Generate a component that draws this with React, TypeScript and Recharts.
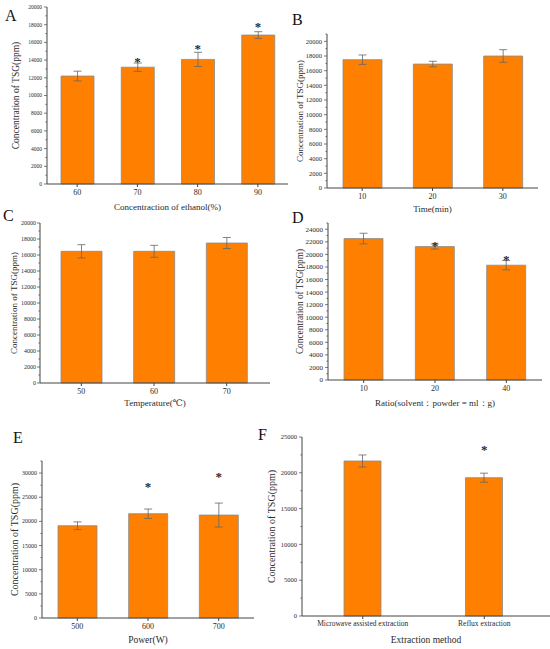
import React from 'react';
import { ComposedChart, Bar, Scatter, XAxis, YAxis, ErrorBar } from 'recharts';

// A - ethanol concentration
const ethanolCats = ['60', '70', '80', '90'];
const ethanolTsg = [12200, 13200, 14080, 16830];
const ethanolErr = [550, 470, 800, 380];
const ethanolStar = [null, 14100, 15500, 18000];

// B - time
const timeCats = ['10', '20', '30'];
const timeTsg = [17500, 16900, 18000];
const timeErr = [640, 380, 860];
const timeStar = [null, null, null];

// C - temperature
const tempCats = ['50', '60', '70'];
const tempTsg = [16460, 16460, 17500];
const tempErr = [830, 750, 690];
const tempStar = [null, null, null];

// D - solvent ratio
const ratioCats = ['10', '20', '40'];
const ratioTsg = [22520, 21250, 18280];
const ratioErr = [850, 400, 740];
const ratioStar = [null, 21720, 19500];

// E - power
const powerCats = ['500', '600', '700'];
const powerTsg = [19100, 21590, 21310];
const powerErr = [800, 970, 2480];
const powerStar = [null, 27600, 29800];

// F - method
const methodCats = ['Microwave assisted extraction', 'Reflux extraction'];
const methodTsg = [21650, 19320];
const methodErr = [840, 630];
const methodStar = [null, 23600];

const ticks20k = [0, 2000, 4000, 6000, 8000, 10000, 12000, 14000, 16000, 18000, 20000];
const ticks24k = [0, 2000, 4000, 6000, 8000, 10000, 12000, 14000, 16000, 18000, 20000, 22000, 24000];
const ticks30k = [0, 5000, 10000, 15000, 20000, 25000, 30000];
const ticks25k = [0, 5000, 10000, 15000, 20000, 25000];

const ORANGE = '#FF8000';
const AXIS = '#444';
const TEXT = '#2a2a2a';
const Y_TITLE = 'Concentration of TSG(ppm)';

type Row = { cat: string; v: number; err: number; star: number | null };

const rows = (cats: string[], v: number[], err: number[], star: (number | null)[]): Row[] =>
  cats.map((c, i) => ({ cat: c, v: v[i], err: err[i], star: star[i] }));

const YTick = (props: any) => {
  const { x, y, payload, majors, fs, gap } = props;
  const ax = x + 5;
  const major = majors.includes(payload.value);
  return (
    <g>
      <line x1={ax - (major ? 3 : 1.6)} x2={ax} y1={y} y2={y} stroke={AXIS} strokeWidth={0.7} />
      {major && (
        <text x={ax - gap} y={y} dy="0.35em" textAnchor="end" fontSize={fs} fill={TEXT}>
          {payload.value}
        </text>
      )}
    </g>
  );
};

const Star = (props: any) => {
  const { cx, cy, payload } = props;
  if (payload == null || payload.star == null) return <g />;
  return (
    <text x={cx} y={cy + 6.5} textAnchor="middle" fontSize={13} fontWeight="bold" fill={TEXT}>
      *
    </text>
  );
};

type PanelProps = {
  data: Row[];
  left: number;
  top: number;
  width: number;
  height: number;
  mTop: number;
  mRight: number;
  yWidth: number;
  max: number;
  majors: number[];
  minorStep: number;
  yFont: number;
  yGap?: number;
  xFont: number;
  barSize: number;
  xLabel: string;
  xLabelOffset: number;
  yLabelOffset: number;
  yLabelFont: number;
  xLabelFont: number;
  pad?: { left: number; right: number };
};

function Panel(p: PanelProps) {
  const allTicks: number[] = [];
  for (let t = 0; t <= p.max; t += p.minorStep) allTicks.push(t);
  return (
    <div style={{ position: 'absolute', left: p.left, top: p.top }}>
      <ComposedChart
        width={p.width}
        height={p.height}
        data={p.data}
        margin={{ top: p.mTop, right: p.mRight, left: 0, bottom: 0 }}
      >
        <XAxis
          dataKey="cat"
          height={30}
          padding={p.pad || { left: 0, right: 0 }}
          stroke={AXIS}
          tickSize={3}
          tickMargin={2}
          tick={{ fontSize: p.xFont, fill: TEXT }}
          interval={0}
          label={{ value: p.xLabel, position: 'insideBottom', offset: p.xLabelOffset, fontSize: p.xLabelFont, fill: TEXT }}
        />
        <YAxis
          type="number"
          domain={[0, p.max]}
          ticks={allTicks}
          interval={0}
          width={p.yWidth}
          stroke={AXIS}
          tickSize={3}
          tickMargin={2}
          tickLine={false}
          tick={<YTick majors={p.majors} fs={p.yFont} gap={p.yGap ?? 5} />}
          label={{
            value: Y_TITLE,
            angle: -90,
            position: 'insideLeft',
            offset: p.yLabelOffset,
            fontSize: p.yLabelFont,
            fill: TEXT,
            style: { textAnchor: 'middle' },
          }}
        />
        <Bar dataKey="v" fill={ORANGE} stroke="#8a8a8a" strokeWidth={0.8} barSize={p.barSize} isAnimationActive={false}>
          <ErrorBar dataKey="err" width={4} strokeWidth={0.8} stroke="#666" />
        </Bar>
        <Scatter dataKey="star" shape={<Star />} isAnimationActive={false} />
      </ComposedChart>
    </div>
  );
}

const letter = (t: string, x: number, y: number) => (
  <div style={{ position: 'absolute', left: x, top: y, fontSize: 16, lineHeight: '16px', color: '#111' }}>{t}</div>
);

export default function App() {
  return (
    <div
      style={{
        position: 'absolute',
        left: 0,
        top: 0,
        width: 550,
        height: 649,
        background: '#fff',
        fontFamily: '"Liberation Serif", "DejaVu Serif", serif',
        overflow: 'hidden',
      }}
    >
      <Panel
        data={rows(ethanolCats, ethanolTsg, ethanolErr, ethanolStar)}
        left={0} top={0} width={292} height={214} mTop={7} mRight={4}
        yWidth={47} max={20000} majors={ticks20k} minorStep={1000}
        yFont={5.5} xFont={8} barSize={33}
        xLabel="Concentraction of ethanol(%)" xLabelOffset={4} xLabelFont={9}
        yLabelOffset={16} yLabelFont={9.5}
      />
      <Panel
        data={rows(timeCats, timeTsg, timeErr, timeStar)}
        left={275} top={0} width={265} height={218} mTop={34} mRight={2}
        yWidth={52} max={21000} majors={ticks20k} minorStep={1000}
        yFont={6.5} xFont={8} barSize={39}
        xLabel="Time(min)" xLabelOffset={6} xLabelFont={9}
        yLabelOffset={25} yLabelFont={9}
      />
      <Panel
        data={rows(tempCats, tempTsg, tempErr, tempStar)}
        left={0} top={214} width={272} height={199} mTop={9} mRight={2}
        yWidth={40} max={20000} majors={ticks20k} minorStep={1000}
        yFont={6} yGap={4} xFont={8} barSize={41} pad={{ left: 5, right: 7 }}
        xLabel="Temperature(℃)" xLabelOffset={7} xLabelFont={9}
        yLabelOffset={14} yLabelFont={9}
      />
      <Panel
        data={rows(ratioCats, ratioTsg, ratioErr, ratioStar)}
        left={275} top={214} width={269} height={196} mTop={9} mRight={2}
        yWidth={53} max={25000} majors={ticks24k} minorStep={1000}
        yFont={7} xFont={8} barSize={39}
        xLabel="Ratio(solvent：powder = ml：g)" xLabelOffset={4} xLabelFont={9}
        yLabelOffset={25} yLabelFont={9.3}
      />
      <Panel
        data={rows(powerCats, powerTsg, powerErr, powerStar)}
        left={0} top={430} width={256} height={218} mTop={31} mRight={2}
        yWidth={42} max={32500} majors={ticks30k} minorStep={2500}
        yFont={6} xFont={8} barSize={39}
        xLabel="Power(W)" xLabelOffset={5} xLabelFont={9.5}
        yLabelOffset={14} yLabelFont={10}
      />
      <Panel
        data={rows(methodCats, methodTsg, methodErr, methodStar)}
        left={250} top={430} width={300} height={216} mTop={7} mRight={0}
        yWidth={52} max={25000} majors={ticks25k} minorStep={2500}
        yFont={6.5} xFont={7.5} barSize={37} pad={{ left: 0, right: 5 }}
        xLabel="Extraction method" xLabelOffset={3} xLabelFont={9.5}
        yLabelOffset={21} yLabelFont={10}
      />
      {letter('A', 5, 8)}
      {letter('B', 292, 12)}
      {letter('C', 3, 208)}
      {letter('D', 292, 210)}
      {letter('E', 13, 430)}
      {letter('F', 258, 427)}
    </div>
  );
}
